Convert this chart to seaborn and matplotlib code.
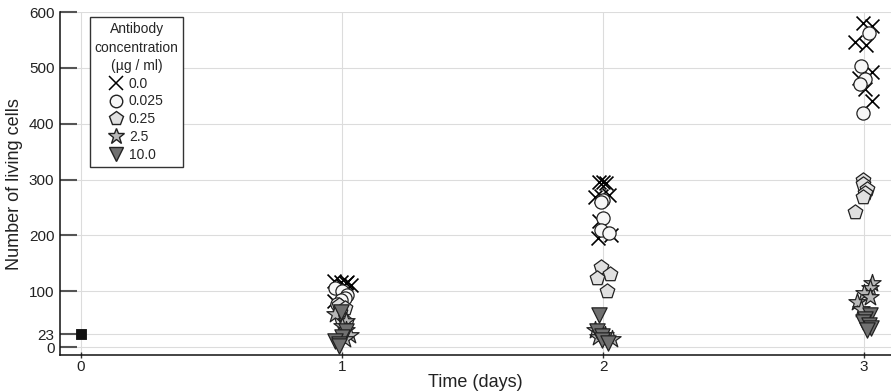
import numpy as np
import pandas as pd
import matplotlib
matplotlib.use("Agg")
import matplotlib.pyplot as plt
import seaborn as sns
from matplotlib.lines import Line2D

# ---- data ----
concentrations = ["0.0", "0.025", "0.25", "2.5", "10.0"]
days = [1, 2, 3]

vals_00 = {1: [118, 117, 116, 114, 112, 110, 95, 82],
           2: [296, 295, 294, 272, 270, 268, 225, 200, 195],
           3: [580, 575, 546, 541, 493, 482, 462, 440]}
vals_0025 = {1: [105, 100, 93, 88, 84, 78],
             2: [263, 260, 232, 210, 205],
             3: [563, 503, 480, 472, 419]}
vals_025 = {1: [76, 70, 62, 52, 45],
            2: [143, 130, 124, 100],
            3: [300, 292, 284, 276, 268, 242]}
vals_25 = {1: [60, 47, 38, 30, 22, 15],
           2: [30, 26, 22, 18, 14],
           3: [115, 106, 97, 89, 80, 68]}
vals_10 = {1: [62, 28, 18, 10, 5, 2],
           2: [58, 28, 20, 12, 8],
           3: [58, 50, 45, 40, 35, 30]}
initial_day = [0]
initial_cells = [23]

yticks = [0, 23, 100, 200, 300, 400, 500, 600]
xticks = [0, 1, 2, 3]

# ---- style ----
sns.set_style("white")
plt.rcParams["font.family"] = ["Liberation Sans", "DejaVu Sans"]

fig = plt.figure(figsize=(8.91, 3.91), dpi=100)
ax = fig.add_axes([0.0673, 0.092, 0.9327, 0.877])

groups = [
    (vals_00, "x", "black", "black", 10),
    (vals_0025, "o", "#f7f7f7", "#222222", 9.5),
    (vals_025, "p", "#e0e0e0", "#222222", 11),
    (vals_25, "*", "#b8b8b8", "#222222", 13),
    (vals_10, "v", "#707070", "#222222", 11),
]

np.random.seed(7)
for vals, marker, fc, ec, size in groups:
    rows = [(d, v) for d in days for v in vals[d]]
    df = pd.DataFrame(rows, columns=["day", "cells"])
    if marker == "x":
        sns.stripplot(data=df, x="day", y="cells", native_scale=True, orient="v",
                      jitter=0.035, marker=marker, color=fc, size=size,
                      linewidth=1.2, ax=ax, zorder=3)
    else:
        sns.stripplot(data=df, x="day", y="cells", native_scale=True, orient="v",
                      jitter=0.035, marker=marker, color=fc, edgecolor=ec,
                      size=size, linewidth=0.9, ax=ax, zorder=3)

df0 = pd.DataFrame({"day": initial_day, "cells": initial_cells})
sns.scatterplot(data=df0, x="day", y="cells", marker="s", color="#111111",
                s=60, edgecolor="#111111", ax=ax, zorder=3)

ax.set_xlim(-0.0805, 3.103)
ax.set_ylim(-14.3, 600)
ax.set_xticks(xticks)
ax.set_xticklabels([str(t) for t in xticks])
ax.set_yticks(yticks)
ax.set_yticklabels([str(t) for t in yticks])

ax.grid(True, color="#dcdcdc", linewidth=0.8, zorder=0)
ax.set_axisbelow(True)
for s in ["top", "right"]:
    ax.spines[s].set_visible(False)
for s in ["left", "bottom"]:
    ax.spines[s].set_color("#111111")
    ax.spines[s].set_linewidth(1.1)

ax.tick_params(axis="y", direction="in", length=12, width=1.5, color="#555555",
               labelsize=11, labelcolor="#222222", pad=4, left=True)
ax.tick_params(axis="x", direction="inout", length=5, width=1, color="#333333",
               labelsize=11, labelcolor="#222222", pad=1, bottom=True)

ax.set_xlabel("Time (days)", fontsize=13, color="#222222", labelpad=0)
ax.set_ylabel("Number of living cells", fontsize=13, color="#222222", labelpad=4)

handles = [
    Line2D([], [], linestyle="none", marker="x", color="black", markersize=10,
           markeredgewidth=1.1, label="0.0"),
    Line2D([], [], linestyle="none", marker="o", markerfacecolor="#f7f7f7",
           markeredgecolor="#222222", markersize=9, label="0.025"),
    Line2D([], [], linestyle="none", marker="p", markerfacecolor="#e0e0e0",
           markeredgecolor="#222222", markersize=10, label="0.25"),
    Line2D([], [], linestyle="none", marker="*", markerfacecolor="#b8b8b8",
           markeredgecolor="#222222", markersize=12, label="2.5"),
    Line2D([], [], linestyle="none", marker="v", markerfacecolor="#707070",
           markeredgecolor="#222222", markersize=10, label="10.0"),
]
leg = ax.legend(handles=handles, title="Antibody\nconcentration\n(µg / ml)",
                loc="upper left", bbox_to_anchor=(0.036, 0.985), fontsize=10,
                title_fontsize=10, frameon=True, fancybox=False,
                edgecolor="#333333", framealpha=1, borderpad=0.35,
                labelspacing=0.27, handletextpad=0.4, handlelength=1.0,
                borderaxespad=0)
leg.get_title().set_multialignment("center")
leg.get_title().set_linespacing(1.4)
leg.get_frame().set_linewidth(1.0)
leg.set_zorder(5)

fig.savefig("out.png", dpi=100)
